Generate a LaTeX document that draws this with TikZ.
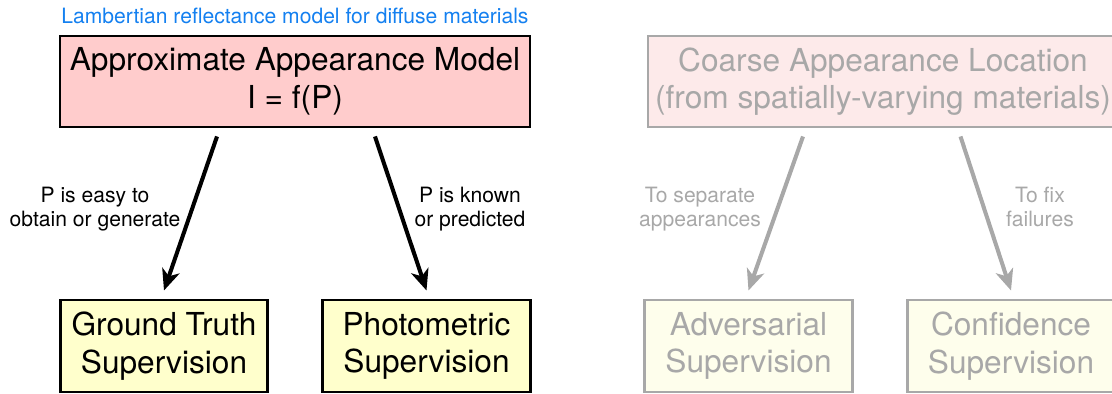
\documentclass[tikz,border=0pt]{standalone}
\usepackage{fontspec}
\setmainfont{TeX Gyre Heros}
\usetikzlibrary{arrows.meta,positioning}

\definecolor{modelpink}{RGB}{255,204,204}
\definecolor{supyellow}{RGB}{255,255,204}
\definecolor{fadepink}{RGB}{253,234,234}
\definecolor{fadeyellow}{RGB}{254,254,236}
\definecolor{fadegray}{RGB}{168,168,168}
\definecolor{noteblue}{RGB}{20,128,240}

\tikzset{
  bigbox/.style={draw, line width=1.7pt, align=center, inner sep=0pt,
    font=\fontsize{18}{21.3}\selectfont},
  topbox/.style={bigbox, minimum width=9.4cm, minimum height=1.82cm},
  supbox/.style={bigbox, minimum width=4.15cm, minimum height=1.84cm},
  faded/.style={draw=fadegray, text=fadegray},
  lbl/.style={anchor=base, font=\fontsize{12}{14}\selectfont, inner sep=0pt},
  arr/.style={-{Stealth[length=0.42cm,width=0.36cm,inset=0.12cm]}, line width=2.3pt}
}

\begin{document}
\begin{tikzpicture}
\useasboundingbox (0,0) rectangle (22.24,7.88);

\node (note) at (5.9, 7.40) [lbl, text=noteblue] {Lambertian reflectance model for diffuse materials};

\node (model) at (5.9, 6.25) [topbox, fill=modelpink] {Approximate Appearance Model\\I = f(P)};
\node (coarse) at (17.66, 6.25) [topbox, faded, fill=fadepink] {Coarse Appearance Location\\(from spatially-varying materials)};

\node (gt) at (3.28, 0.96) [supbox, fill=supyellow] {Ground Truth\\Supervision};
\node (photo) at (8.53, 0.96) [supbox, fill=supyellow] {Photometric\\Supervision};
\node (adv) at (14.97, 0.96) [supbox, faded, fill=fadeyellow] {Adversarial\\Supervision};
\node (conf) at (20.22, 0.96) [supbox, faded, fill=fadeyellow] {Confidence\\Supervision};

\node (easy) at (1.9, 3.82) [lbl] {P is easy to};
\node (easya) at (1.9, 3.34) [lbl] {obtain or generate};
\node (known) at (9.4, 3.82) [lbl] {P is known};
\node (knowna) at (9.4, 3.34) [lbl] {or predicted};

\node (sep) at (14.0, 3.82) [lbl, text=fadegray] {To separate};
\node (sepa) at (14.0, 3.34) [lbl, text=fadegray] {appearances};
\node (fix) at (20.8, 3.82) [lbl, text=fadegray] {To fix};
\node (fixa) at (20.8, 3.34) [lbl, text=fadegray] {failures};

\draw[arr] ([xshift=-1.56cm, yshift=-0.16cm]model.south) to ([yshift=0.16cm]gt.north);
\draw[arr] ([xshift=1.6cm, yshift=-0.16cm]model.south) to ([yshift=0.16cm]photo.north);

\draw[arr, fadegray] ([xshift=-1.6cm, yshift=-0.16cm]coarse.south) to ([yshift=0.16cm]adv.north);
\draw[arr, fadegray] ([xshift=1.55cm, yshift=-0.16cm]coarse.south) to ([yshift=0.16cm]conf.north);
\end{tikzpicture}
\end{document}
